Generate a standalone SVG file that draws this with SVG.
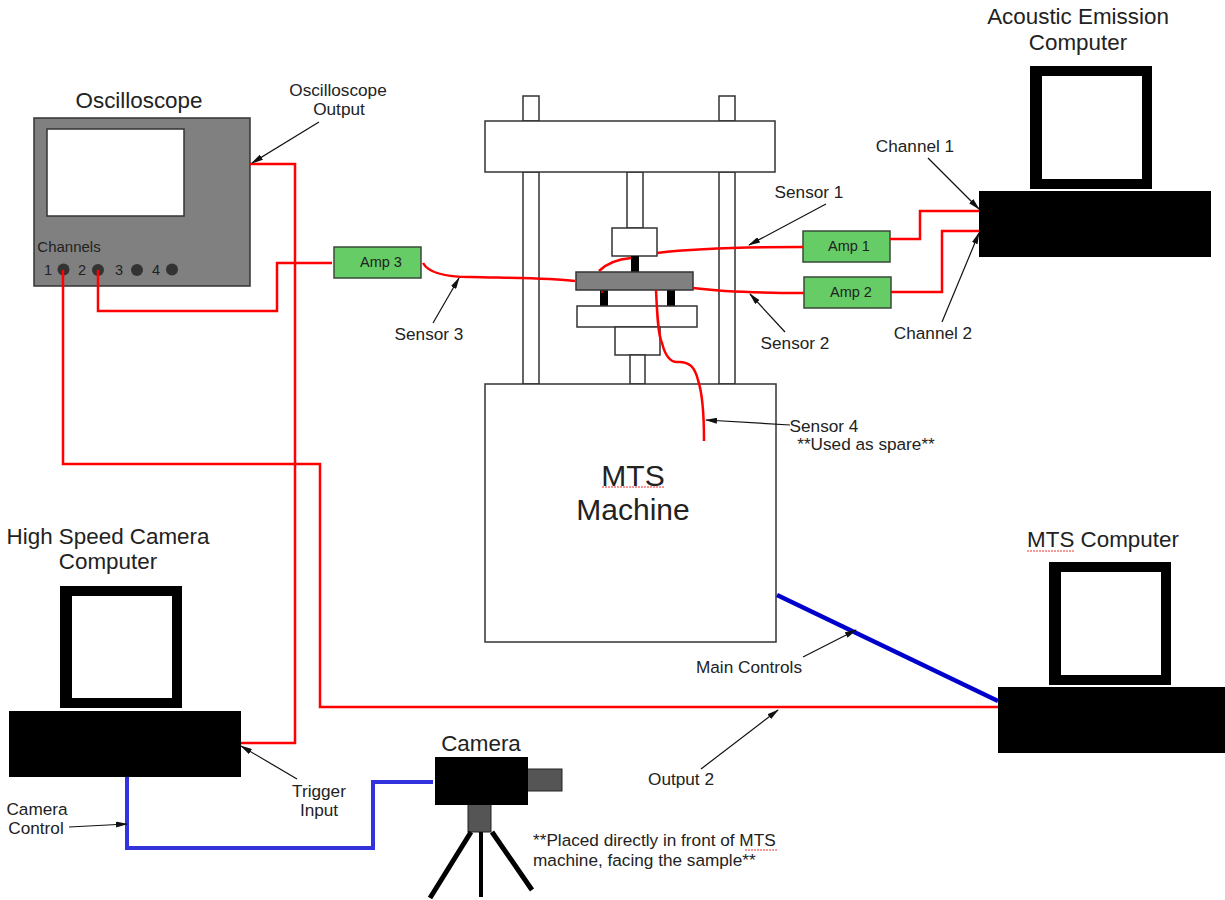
<svg xmlns="http://www.w3.org/2000/svg" width="1225" height="900" viewBox="0 0 1225 900">
<style>
text{font-family:"Liberation Sans",Arial,sans-serif;fill:#222;text-anchor:middle}
.a{font-size:14.500px}
.s{font-size:17.200px}
.m{font-size:22.400px}
.l{font-size:30px}
.box{fill:#fff;stroke:#333;stroke-width:1.500}
.blk{fill:#000}
.gry{fill:#808080;stroke:#333;stroke-width:1.500}
.amp{fill:#66cc66;stroke:#3a4a3a;stroke-width:1.500}
.red{fill:none;stroke:#f00;stroke-width:2.500}
.blu{fill:none;stroke:#3333dd;stroke-width:4}
.arr{fill:none;stroke:#111;stroke-width:1.200;marker-end:url(#a)}
.leg{stroke:#000;stroke-width:5;fill:none}
.sp{fill:none;stroke:#e33;stroke-width:1;stroke-dasharray:2 1}
</style>
<defs><marker id="a" markerUnits="userSpaceOnUse" markerWidth="12" markerHeight="6" refX="11" refY="3" orient="auto"><path d="M0 0L12 3L0 6Z" fill="#111"/></marker></defs>
<rect width="1225" height="900" fill="#fff"/>
<g id="mts-machine">
<rect class="box" x="523" y="96" width="16" height="25"/><rect class="box" x="719" y="96" width="16" height="25"/>
<rect class="box" x="523" y="172" width="16" height="212"/><rect class="box" x="719" y="172" width="16" height="212"/>
<rect class="box" x="627" y="172" width="16" height="56"/>
<rect class="box" x="485" y="121" width="290" height="51"/>
<rect class="box" x="612" y="228" width="45" height="28"/>
<rect class="blk" x="631" y="256" width="8" height="16"/>
<rect class="blk" x="600" y="290" width="8" height="16"/><rect class="blk" x="667" y="290" width="8" height="16"/>
<rect class="box" x="577" y="306" width="120" height="21"/>
<rect class="box" x="615" y="327" width="45" height="28"/>
<rect class="box" x="630" y="355" width="15" height="29"/>
<rect class="gry" x="576" y="272" width="117" height="18"/>
<rect class="box" x="485" y="384" width="291" height="258"/>
<text class="l" x="633" y="486">MTS</text><text class="l" x="633" y="520">Machine</text>
<path class="sp" d="M602 487h63"/>
</g>
<g id="oscilloscope">
<text class="m" x="139" y="108">Oscilloscope</text>
<rect class="gry" x="34" y="118" width="216" height="168"/>
<rect class="box" x="47" y="129" width="137" height="87"/>
<text x="69" y="252" style="font-size:15px">Channels</text>
<text class="a" x="48" y="275">1</text><circle cx="63.500" cy="269.500" r="6" fill="#333"/>
<text class="a" x="82" y="275">2</text><circle cx="98" cy="270" r="6" fill="#333"/>
<text class="a" x="119" y="275">3</text><circle cx="137" cy="270" r="6" fill="#333"/>
<text class="a" x="156" y="275">4</text><circle cx="172" cy="269.500" r="6" fill="#333"/>
</g>
<g id="amp-3"><rect class="amp" x="334" y="247" width="87" height="31"/><text class="a" x="381" y="267">Amp 3</text></g>
<g id="amp-1"><rect class="amp" x="803" y="231" width="87" height="31"/><text class="a" x="849" y="251">Amp 1</text></g>
<g id="amp-2"><rect class="amp" x="804" y="277" width="87" height="31"/><text class="a" x="851" y="297">Amp 2</text></g>
<g id="acoustic-computer">
<text class="m" x="1078" y="24">Acoustic Emission</text><text class="m" x="1078" y="50">Computer</text>
<path fill="#000" fill-rule="evenodd" d="M1030 66H1152V189H1030ZM1042 76V179H1142V76Z"/>
<rect class="blk" x="979" y="191" width="232" height="66"/>
</g>
<g id="mts-computer">
<text class="m" x="1103" y="547">MTS Computer</text>
<path class="sp" d="M1027 551h47"/>
<path fill="#000" fill-rule="evenodd" d="M1049 562H1171V685H1049ZM1061 572V675H1161V572Z"/>
<rect class="blk" x="998" y="687" width="227" height="66"/>
</g>
<g id="camera-computer">
<text class="m" x="108" y="544">High Speed Camera</text><text class="m" x="108" y="569">Computer</text>
<path fill="#000" fill-rule="evenodd" d="M60 586H182V708H60ZM72 596V698H172V596Z"/>
<rect class="blk" x="9" y="711" width="232" height="66"/>
</g>
<g id="camera">
<text class="m" x="481" y="751">Camera</text>
<rect x="527" y="769" width="35" height="22" fill="#555" stroke="#222"/>
<rect x="468" y="804" width="23" height="28" fill="#555" stroke="#222"/>
<rect class="blk" x="435" y="757" width="93" height="48"/>
<path class="leg" d="M471 832L430 898M492 832L532 890"/>
<path d="M481 832V897" stroke="#000" stroke-width="4" fill="none"/>
</g>
<g id="connectors">
<path class="red" d="M250 164H295V743H241"/>
<path class="red" d="M63 270V464H320V707H998"/>
<path class="red" d="M98 270V311H277V263H332"/>
<path class="red" d="M423 263C428 272 444 277 470 277C510 278 550 278 575 281"/>
<path class="red" d="M599 271C608 262 620 259 631 258M657 253C690 249 750 247 803 247"/>
<path class="red" d="M693 288C725 292 770 293 804 293"/>
<path class="red" d="M656 290C657 312 658 335 662 343C665 355 670 362 677 362C690 361 695 368 698 380C703 395 704 420 704 441"/>
<circle cx="602" cy="292" r="1" fill="#f00"/>
<path class="red" d="M890 239H920V211H979M891 292H942V231H979"/>
<path class="blu" d="M127 777V848H373V782H433"/>
<path d="M777 595L998 701" fill="none" stroke="#0000cc" stroke-width="4.500"/>
<path class="arr" d="M319 122L252 163"/>
<path class="arr" d="M826 204L749 245"/>
<path class="arr" d="M785 332L750 294"/>
<path class="arr" d="M433 323L459 278"/>
<path class="arr" d="M790 425L706 420"/>
<path class="arr" d="M928 158L979 209"/>
<path class="arr" d="M942 322L979 233"/>
<path class="arr" d="M803 657L856 630"/>
<path class="arr" d="M701 769L778 710"/>
<path class="arr" d="M297 779L241 746"/>
<path class="arr" d="M69 827L127 824"/>
<text class="s" x="338" y="96">Oscilloscope</text><text class="s" x="339" y="115">Output</text>
<text class="s" x="809" y="198">Sensor 1</text>
<text class="s" x="795" y="349">Sensor 2</text>
<text class="s" x="429" y="340">Sensor 3</text>
<text class="s" x="824" y="432">Sensor 4</text><text class="s" x="866" y="450">**Used as spare**</text>
<text class="s" x="915" y="152">Channel 1</text>
<text class="s" x="933" y="339">Channel 2</text>
<text class="s" x="749" y="673">Main Controls</text>
<text class="s" x="681" y="785">Output 2</text>
<text class="s" x="319" y="797">Trigger</text><text class="s" x="319" y="816">Input</text>
<text class="s" x="37" y="815">Camera</text><text class="s" x="36" y="834">Control</text>
<text class="s" x="533" y="846" style="text-anchor:start">**Placed directly in front of MTS</text><text class="s" x="533" y="866" style="text-anchor:start">machine, facing the sample**</text>
<path class="sp" d="M745 850h33"/>
</g>
</svg>
